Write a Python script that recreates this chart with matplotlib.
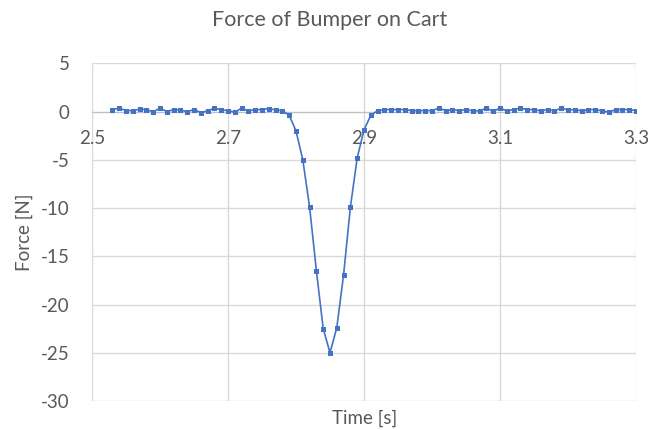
import matplotlib
matplotlib.use("Agg")
import matplotlib.pyplot as plt
import numpy as np

plt.rcParams['font.family'] = ['Lato', 'DejaVu Sans']
plt.rcParams['axes.unicode_minus'] = False

time_s = [round(2.53 + 0.01 * i, 2) for i in range(78)]
force_n = [
    0.20, 0.35, 0.10, 0.10, 0.24, 0.20, -0.03, 0.35, 0.00, 0.20,   # 2.53-2.62
    0.14, 0.00, 0.20, -0.10, 0.07, 0.35, 0.17, 0.10, -0.07, 0.35,  # 2.63-2.72
    0.07, 0.20, 0.20, 0.30, 0.17, 0.10, -0.40, -2.00, -5.00, -9.90, # 2.73-2.82
    -16.50, -22.50, -25.00, -22.40, -16.90, -9.90, -4.80, -1.90, -0.40, 0.10,  # 2.83-2.92
    0.20, 0.20, 0.20, 0.20, 0.10, 0.10, 0.10, 0.10, 0.35, 0.10,    # 2.93-3.02
    0.20, 0.10, 0.20, 0.07, 0.07, 0.35, 0.03, 0.35, 0.07, 0.20,    # 3.03-3.12
    0.35, 0.20, 0.20, 0.07, 0.20, 0.07, 0.35, 0.17, 0.20, 0.07,    # 3.13-3.22
    0.20, 0.20, 0.07, -0.07, 0.20, 0.20, 0.20, 0.10,               # 3.23-3.30
]
x_ticks = [2.5, 2.7, 2.9, 3.1, 3.3]
x_tick_labels = ["2.5", "2.7", "2.9", "3.1", "3.3"]
y_ticks = [5, 0, -5, -10, -15, -20, -25, -30]

text_col = "#595959"
grid_col = "#d9d9d9"
line_col = "#4472C4"

fig = plt.figure(figsize=(6.6, 4.3), dpi=100)
ax = fig.add_axes([92/660, 1 - 401/430, (636-92)/660, (401-63.3)/430])

ax.plot(time_s, force_n, color=line_col, lw=1.2, marker='s', ms=3.6,
        markeredgewidth=0, zorder=3)

ax.set_xlim(2.5, 3.3)
ax.set_ylim(-30, 5)
ax.set_xticks(x_ticks)
ax.set_xticklabels(x_tick_labels)
ax.set_yticks(y_ticks)
ax.grid(True, color=grid_col, lw=1.0, zorder=0)
ax.set_axisbelow(True)

for s in ['top', 'right', 'left']:
    ax.spines[s].set_visible(False)
ax.spines['bottom'].set_position(('data', 0))
ax.spines['bottom'].set_color("#bfbfbf")
ax.spines['bottom'].set_zorder(1)

ax.tick_params(axis='x', length=0, pad=13, labelsize=13.5, colors=text_col)
ax.tick_params(axis='y', length=0, pad=16, labelsize=13.5, colors=text_col)

ax.set_ylabel("Force [N]", fontsize=13.5, color=text_col, labelpad=6)
fig.text(365/660, 1 - 418/430, "Time [s]", fontsize=13.5, color=text_col,
         ha='center', va='center')
fig.text(0.5, 1 - 20/430, "Force of Bumper on Cart", fontsize=15.5,
         color=text_col, ha='center', va='center')

fig.savefig("out.png", dpi=100)
